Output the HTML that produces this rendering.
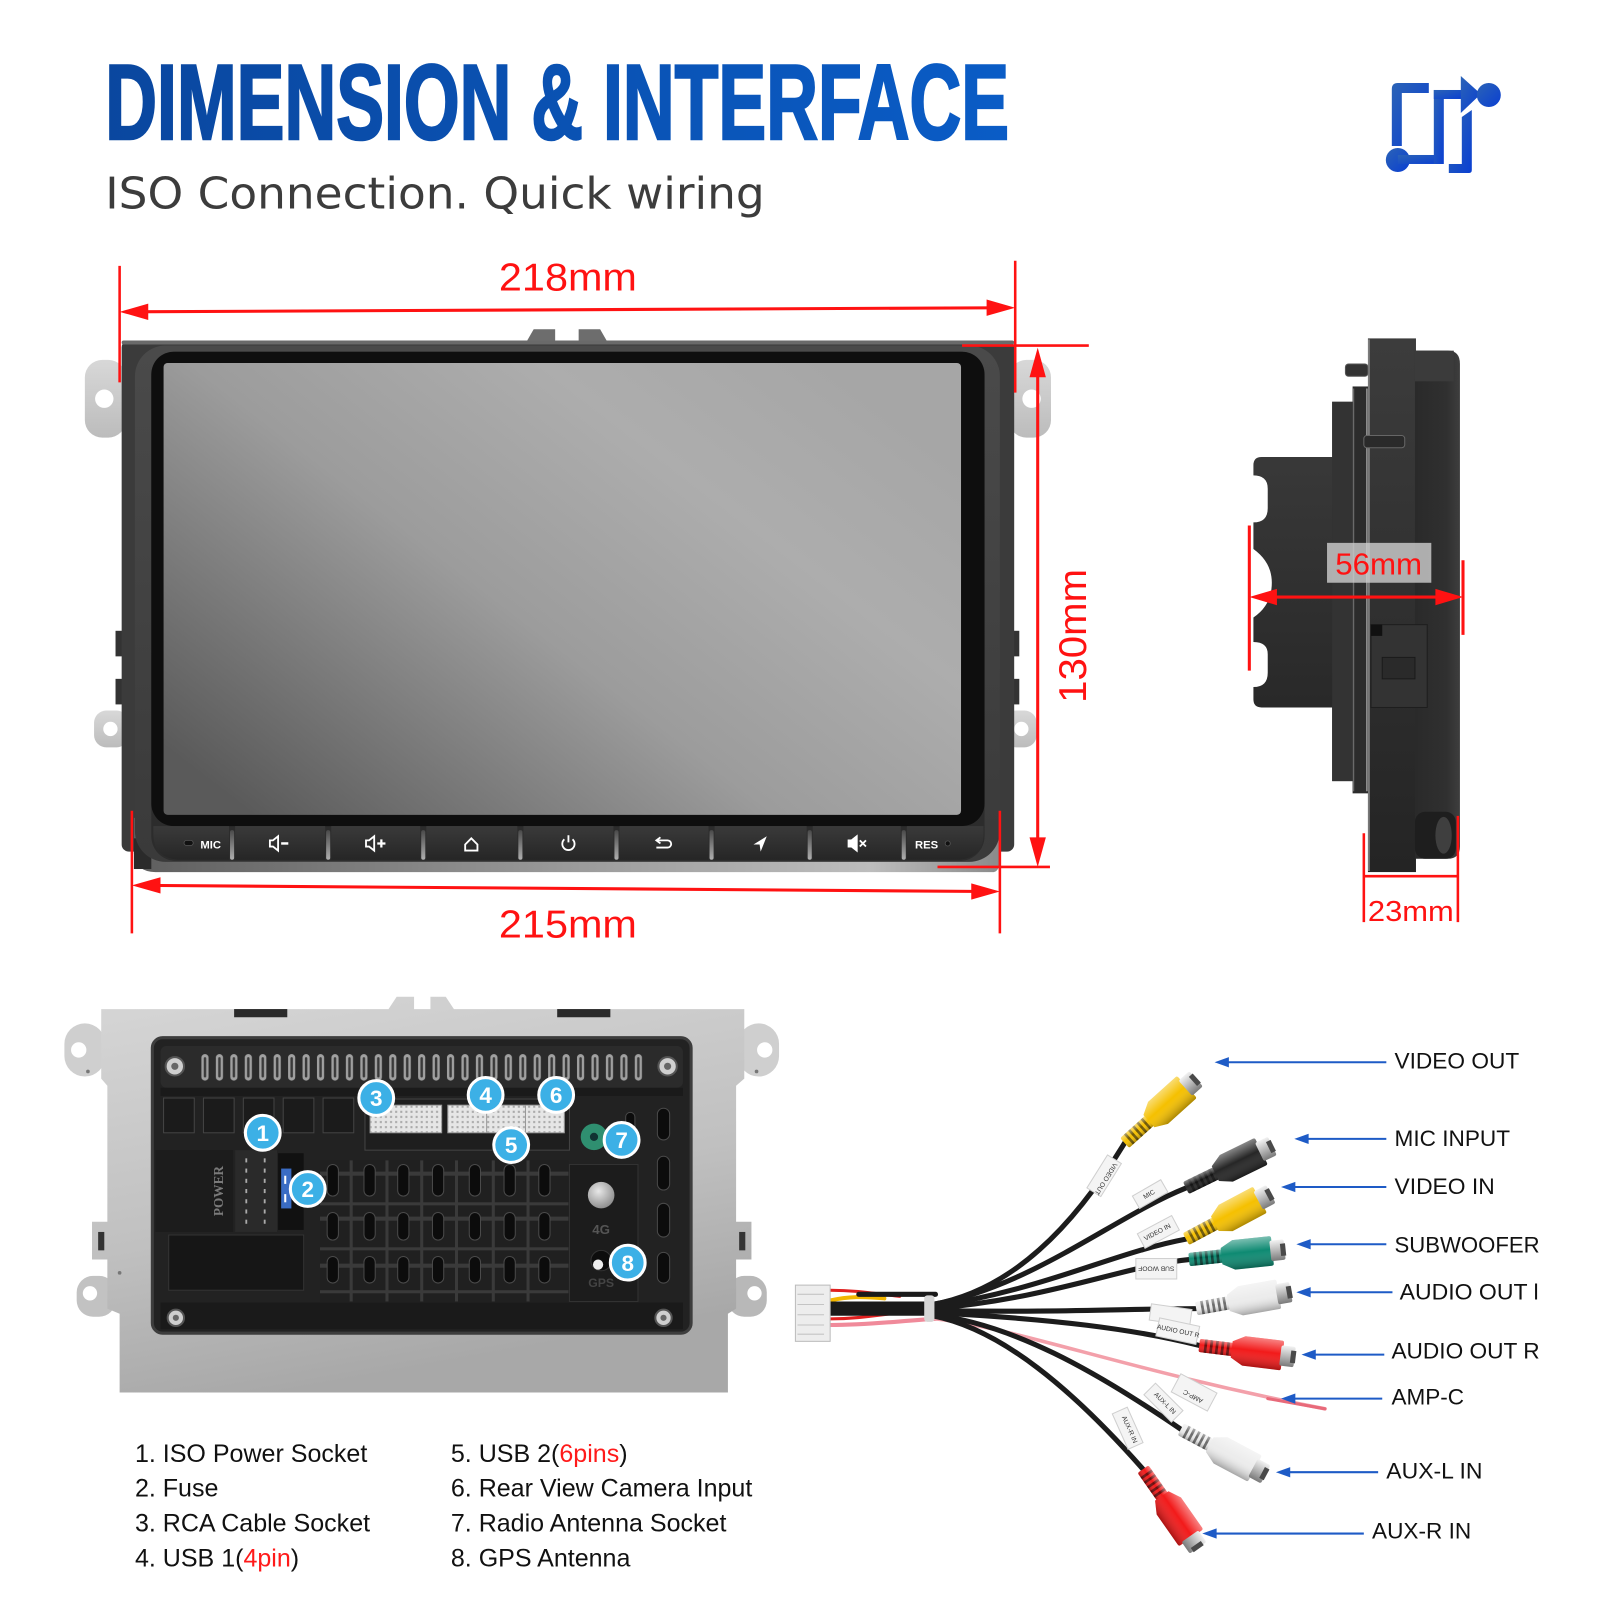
<!DOCTYPE html>
<html><head><meta charset="utf-8"><style>
html,body{margin:0;padding:0;background:#fff;}
svg{display:block;}
</style></head><body>
<svg width="1600" height="1600" viewBox="0 0 1565 1565" xmlns="http://www.w3.org/2000/svg">
<defs>
  <linearGradient id="tg" x1="0" y1="0" x2="1" y2="0"><stop offset="0" stop-color="#0a479f"/><stop offset="1" stop-color="#0a5cc6"/></linearGradient>
  <linearGradient id="ig" x1="0" y1="0" x2="1" y2="1"><stop offset="0" stop-color="#2b63b6"/><stop offset="1" stop-color="#0a3fd2"/></linearGradient>
  <linearGradient id="scr" x1="0" y1="0.85" x2="0.95" y2="0.15"><stop offset="0" stop-color="#5a5a5a"/><stop offset="0.45" stop-color="#9c9c9c"/><stop offset="0.75" stop-color="#adadad"/><stop offset="1" stop-color="#a6a6a6"/></linearGradient>
  <linearGradient id="frame" x1="0" y1="0" x2="0" y2="1"><stop offset="0" stop-color="#4a4a4a"/><stop offset="1" stop-color="#3a3a3a"/></linearGradient>
  <linearGradient id="lip" x1="0" y1="0" x2="1" y2="0"><stop offset="0" stop-color="#5e5e5e"/><stop offset="0.5" stop-color="#9a9a9a"/><stop offset="0.85" stop-color="#bdbdbd"/><stop offset="1" stop-color="#8a8a8a"/></linearGradient>
  <linearGradient id="ear" x1="0" y1="0" x2="0" y2="1"><stop offset="0" stop-color="#d8d8d8"/><stop offset="1" stop-color="#bcbcbc"/></linearGradient>
  <linearGradient id="btn" x1="0" y1="0" x2="0" y2="1"><stop offset="0" stop-color="#3a3a3a"/><stop offset="1" stop-color="#262626"/></linearGradient>
  <linearGradient id="gap" x1="0" y1="0" x2="0" y2="1"><stop offset="0" stop-color="#4a4a4a"/><stop offset="1" stop-color="#b0b0b0"/></linearGradient>
  <linearGradient id="side" x1="0" y1="0" x2="0" y2="1"><stop offset="0" stop-color="#3c3c3c"/><stop offset="1" stop-color="#242424"/></linearGradient>
  <linearGradient id="sideR" x1="0" y1="0" x2="1" y2="0"><stop offset="0" stop-color="#2a2a2a"/><stop offset="0.7" stop-color="#303030"/><stop offset="1" stop-color="#3e3e3e"/></linearGradient>
  <linearGradient id="plate" x1="0" y1="0" x2="0.3" y2="1"><stop offset="0" stop-color="#d6d6d6"/><stop offset="0.6" stop-color="#c0c0c0"/><stop offset="1" stop-color="#a8a8a8"/></linearGradient>
  <linearGradient id="plugShade" x1="0" y1="0" x2="0" y2="1"><stop offset="0" stop-color="#fff" stop-opacity="0.45"/><stop offset="0.45" stop-color="#fff" stop-opacity="0"/><stop offset="1" stop-color="#000" stop-opacity="0.3"/></linearGradient>
  <linearGradient id="metal" x1="0" y1="0" x2="0" y2="1"><stop offset="0" stop-color="#f2f2f2"/><stop offset="0.5" stop-color="#b8b8b8"/><stop offset="1" stop-color="#7a7a7a"/></linearGradient>
  <radialGradient id="knob" cx="0.4" cy="0.35" r="0.7"><stop offset="0" stop-color="#e8e8e8"/><stop offset="1" stop-color="#8a8a8a"/></radialGradient>
  <pattern id="vent" x="196" y="1031" width="14.13" height="26" patternUnits="userSpaceOnUse">
    <rect x="1" y="0" width="7" height="26" rx="3.5" fill="#a0a0a0"/>
    <rect x="3.3" y="3" width="2.4" height="20" rx="1.2" fill="#3a3a3a"/>
  </pattern>
  <pattern id="pins" x="0" y="0" width="5" height="5" patternUnits="userSpaceOnUse">
    <rect width="5" height="5" fill="#e6e6e6"/><rect x="1.5" y="1.5" width="2" height="2" fill="#a8a8a8"/>
  </pattern>
  <g id="plug">
    <rect x="0" y="-6.5" width="36" height="13" rx="2" fill="currentColor"/>
    <g fill="#000" opacity="0.55"><rect x="5" y="-6.5" width="2.6" height="13"/><rect x="10.5" y="-6.5" width="2.6" height="13"/><rect x="16" y="-6.5" width="2.6" height="13"/><rect x="21.5" y="-6.5" width="2.6" height="13"/><rect x="27" y="-6.5" width="2.6" height="13"/></g>
    <rect x="0" y="-6.5" width="36" height="13" rx="2" fill="url(#plugShade)"/>
    <path d="M32,-8 L44,-14.5 H80 Q82,-14.5 82,-12.5 V12.5 Q82,14.5 80,14.5 H44 L32,8 Z" fill="currentColor"/>
    <path d="M32,-8 L44,-14.5 H80 Q82,-14.5 82,-12.5 V12.5 Q82,14.5 80,14.5 H44 L32,8 Z" fill="url(#plugShade)"/>
    <rect x="80" y="-10" width="14" height="20" rx="2" fill="url(#metal)"/>
    <rect x="90" y="-6" width="5" height="12" fill="#4a4a4a"/>
  </g>
</defs>

<!-- ===== TITLE ===== -->
<text x="103" y="136" font-family="Liberation Sans, Arial, sans-serif" font-weight="bold" font-size="104" fill="url(#tg)" stroke="url(#tg)" stroke-width="2.5" textLength="884" lengthAdjust="spacingAndGlyphs">DIMENSION &amp; INTERFACE</text>
<text x="103" y="204" font-family="DejaVu Sans, Liberation Sans, sans-serif" font-size="43" fill="#3c3c3c" textLength="645" lengthAdjust="spacingAndGlyphs">ISO Connection. Quick wiring</text>

<!-- icon -->
<g transform="scale(0.978)" fill="url(#ig)">
  <path d="M1392,146 V89 Q1392,83 1398,83 H1429 V93 H1402 V146 Z"/>
  <circle cx="1398" cy="160" r="12"/>
  <rect x="1398" y="155" width="45" height="9"/>
  <rect x="1434" y="90" width="10" height="74"/>
  <rect x="1434" y="90" width="30" height="9"/>
  <polygon points="1461,76 1481,94 1461,113"/>
  <circle cx="1489" cy="95" r="12"/>
  <path d="M1462,117 L1472,110 V170 Q1472,173 1469,173 H1449 V164 H1462 Z"/>
</g>

<!-- ===== FRONT VIEW ===== -->
<!-- ears -->
<rect x="83" y="352" width="40" height="76" rx="17" fill="url(#ear)"/>
<circle cx="102" cy="390" r="9" fill="#fff"/>
<rect x="92" y="695" width="34" height="36" rx="12" fill="url(#ear)"/>
<circle cx="108" cy="713" r="7" fill="#fff"/>
<rect x="987" y="352" width="41" height="76" rx="17" fill="url(#ear)"/>
<circle cx="1009" cy="390" r="9" fill="#fff"/>
<rect x="982" y="695" width="32" height="36" rx="12" fill="url(#ear)"/>
<circle cx="999" cy="713" r="7" fill="#fff"/>
<rect x="113" y="617" width="10" height="25" fill="#333"/>
<rect x="113" y="664" width="10" height="25" fill="#333"/>
<rect x="986" y="617" width="11" height="25" fill="#333"/>
<rect x="986" y="664" width="11" height="25" fill="#333"/>
<!-- top tabs -->
<polygon points="514,336 522,322 543,322 543,336" fill="#6d6d6d"/>
<polygon points="566,336 566,322 587,322 595,336" fill="#6d6d6d"/>
<!-- body -->
<rect x="119" y="333" width="873" height="500" rx="7" fill="#3b3b3b"/>
<rect x="119" y="333" width="873" height="4" rx="2" fill="#6a6a6a"/>
<path d="M131,800 V835 Q133,853 152,853 H972 Q978,852 978,840 V800 Z" fill="url(#lip)"/>
<rect x="131" y="820" width="17" height="30" fill="#2a2a2a"/>
<rect x="132" y="338" width="846" height="505" rx="30" fill="url(#frame)"/>
<rect x="148" y="344" width="815" height="498" rx="24" fill="#2c2c2c"/>
<rect x="148" y="344" width="815" height="464" rx="22" fill="#0e0e0e"/>
<rect x="160" y="355" width="780" height="442" rx="4" fill="url(#scr)"/>
<!-- buttons -->
<path d="M150,808 H224 V841 H178 Q150,841 150,815 Z" fill="url(#btn)"/>
<rect x="230" y="808" width="88" height="33" fill="url(#btn)"/>
<rect x="324" y="808" width="87" height="33" fill="url(#btn)"/>
<rect x="417" y="808" width="89" height="33" fill="url(#btn)"/>
<rect x="512" y="808" width="88" height="33" fill="url(#btn)"/>
<rect x="606" y="808" width="87" height="33" fill="url(#btn)"/>
<rect x="699" y="808" width="90" height="33" fill="url(#btn)"/>
<rect x="795" y="808" width="86" height="33" fill="url(#btn)"/>
<path d="M887,808 H962 V815 Q962,841 934,841 H887 Z" fill="url(#btn)"/>
<g fill="url(#gap)">
  <rect x="225" y="812" width="4" height="29" rx="2"/><rect x="319" y="812" width="4" height="29" rx="2"/>
  <rect x="412" y="812" width="4" height="29" rx="2"/><rect x="507" y="812" width="4" height="29" rx="2"/>
  <rect x="601" y="812" width="4" height="29" rx="2"/><rect x="694" y="812" width="4" height="29" rx="2"/>
  <rect x="790" y="812" width="4" height="29" rx="2"/><rect x="882" y="812" width="4" height="29" rx="2"/>
</g>
<g font-family="Liberation Sans, Arial, sans-serif" font-weight="bold" font-size="11" fill="#fff">
  <rect x="180" y="822" width="9" height="5" rx="2.5" fill="#111" stroke="#555" stroke-width="0.8"/>
  <text x="196" y="830">MIC</text>
  <text x="895" y="830">RES</text>
  <circle cx="927" cy="825" r="2.5" fill="#111" stroke="#555" stroke-width="0.8"/>
</g>
<g stroke="#fff" fill="none" stroke-width="1.8">
  <path d="M264,822 H267 L272,818 V832 L267,828 H264 Z"/>
  <path d="M275,825 H282" stroke-width="2.4"/>
  <path d="M358,822 H361 L366,818 V832 L361,828 H358 Z"/>
  <path d="M369,825 H377 M373,821 V829" stroke-width="2.2"/>
  <path d="M455,826 L461,820 L467,826 V832 H455 Z"/>
  <path d="M552,821 A6,6 0 1 0 560,821 M556,817 V824"/>
  <path d="M643,822 H653 A3.5,3.5 0 0 1 653,829 H642"/>
  <path d="M646,819 L642,822 L646,825"/>
  <path d="M830,822 H833 L838,818 V832 L833,828 H830 Z" fill="#fff"/>
  <path d="M841,822 L847,828 M847,822 L841,828"/>
</g>
<polygon points="750,818 737,826 743,826 744,833" fill="#fff"/>

<!-- front dims -->
<g stroke="#ff1212" fill="none">
  <line x1="117" y1="260" x2="117" y2="374" stroke-width="2.5"/>
  <line x1="993" y1="255" x2="993" y2="384" stroke-width="2.5"/>
  <line x1="125" y1="305" x2="985" y2="301" stroke-width="3"/>
  <line x1="941" y1="338" x2="1065" y2="338" stroke-width="2.5"/>
  <line x1="1015" y1="355" x2="1015" y2="835" stroke-width="3"/>
  <line x1="917" y1="848" x2="1027" y2="848" stroke-width="2.5"/>
  <line x1="129" y1="793" x2="129" y2="913" stroke-width="2.5"/>
  <line x1="978" y1="793" x2="978" y2="913" stroke-width="2.5"/>
  <line x1="140" y1="866" x2="965" y2="872" stroke-width="3"/>
</g>
<g fill="#ff1212">
  <polygon points="117,305 145,297 145,313"/>
  <polygon points="993,301 965,293 965,309"/>
  <polygon points="1015,340 1007,369 1023,369"/>
  <polygon points="1015,848 1007,819 1023,819"/>
  <polygon points="129,866 157,858 157,874"/>
  <polygon points="978,872 950,864 950,880"/>
</g>
<g font-family="Liberation Sans, Arial, sans-serif" fill="#ff1212" font-size="38">
  <text x="488" y="284" textLength="135" lengthAdjust="spacingAndGlyphs">218mm</text>
  <text x="488" y="917" textLength="135" lengthAdjust="spacingAndGlyphs">215mm</text>
  <text transform="translate(1062,622) rotate(-90)" text-anchor="middle" textLength="131" lengthAdjust="spacingAndGlyphs">130mm</text>
</g>

<!-- ===== SIDE VIEW ===== -->
<path d="M1226,455 Q1226,447 1234,447 H1303 V393 H1323 V764 H1303 V692 H1234 Q1226,692 1226,684 V672 Q1240,672 1240,658 V640 Q1240,628 1226,628 V604 Q1244,592 1244,570 Q1244,550 1226,537 V511 Q1240,511 1240,497 V478 Q1240,465 1226,465 Z" fill="url(#side)"/>
<rect x="1303" y="393" width="20" height="371" fill="#333"/>
<rect x="1323" y="378" width="16" height="398" fill="#2c2c2c"/>
<line x1="1324" y1="380" x2="1324" y2="774" stroke="#6a6a6a" stroke-width="1.2"/>
<line x1="1337" y1="380" x2="1337" y2="774" stroke="#9a9a9a" stroke-width="1.5"/>
<rect x="1338" y="331" width="47" height="522" fill="url(#side)"/>
<line x1="1339" y1="332" x2="1339" y2="852" stroke="#8a8a8a" stroke-width="1.5"/>
<path d="M1384,343 H1416 Q1428,343 1428,356 V828 Q1428,840 1416,840 H1384 Z" fill="url(#sideR)"/>
<rect x="1384" y="343" width="38" height="30" fill="#3b3b3b"/>
<rect x="1384" y="794" width="40" height="46" rx="10" fill="#1e1e1e"/>
<ellipse cx="1412" cy="817" rx="8" ry="18" fill="#555" opacity="0.6"/>
<rect x="1316" y="356" width="22" height="12" rx="3" fill="#333" stroke="#555"/>
<rect x="1334" y="426" width="40" height="12" rx="3" fill="#2a2a2a" stroke="#666"/>
<rect x="1341" y="611" width="55" height="81" fill="#333" stroke="#1e1e1e"/>
<rect x="1352" y="643" width="32" height="21" fill="#2a2a2a" stroke="#1a1a1a"/>
<rect x="1341" y="611" width="11" height="11" fill="#111"/>
<!-- side dims -->
<rect x="1298" y="531" width="102" height="39" fill="#d0d0d0" opacity="0.8"/>
<g stroke="#ff1212" fill="none" stroke-width="3">
  <line x1="1222" y1="514" x2="1222" y2="656"/>
  <line x1="1431" y1="548" x2="1431" y2="621"/>
  <line x1="1235" y1="584" x2="1418" y2="584"/>
  <line x1="1334" y1="815" x2="1334" y2="902" stroke-width="2.5"/>
  <line x1="1426" y1="798" x2="1426" y2="902" stroke-width="2.5"/>
  <line x1="1334" y1="857" x2="1426" y2="857" stroke-width="2.5"/>
</g>
<g fill="#ff1212">
  <polygon points="1222,584 1249,576 1249,592"/>
  <polygon points="1431,584 1404,576 1404,592"/>
</g>
<g font-family="Liberation Sans, Arial, sans-serif" fill="#ff1212">
  <text x="1306" y="562" font-size="30" textLength="85" lengthAdjust="spacingAndGlyphs">56mm</text>
  <text x="1338" y="901" font-size="28" textLength="84" lengthAdjust="spacingAndGlyphs">23mm</text>
</g>

<!-- ===== BACK PANEL ===== -->
<rect x="63" y="1001" width="40" height="52" rx="20" fill="#cfcfcf"/>
<circle cx="77" cy="1027" r="7.5" fill="#fff"/>
<rect x="722" y="1001" width="40" height="52" rx="20" fill="#cfcfcf"/>
<circle cx="748" cy="1027" r="7.5" fill="#fff"/>
<rect x="75" y="1248" width="38" height="40" rx="16" fill="#c2c2c2"/>
<circle cx="88" cy="1265" r="7" fill="#fff"/>
<rect x="712" y="1248" width="38" height="40" rx="16" fill="#b8b8b8"/>
<circle cx="738" cy="1265" r="7" fill="#fff"/>
<path d="M99,987 H380 L388,975 H405 V987 H421 V975 H436 L444,987 H728 V1055 L720,1062 V1195 H735 V1232 H720 V1280 L712,1285 V1362 H117 V1285 L105,1280 V1232 H90 V1195 H105 V1062 L99,1055 Z" fill="url(#plate)"/>
<rect x="96" y="1205" width="6" height="18" fill="#333"/>
<rect x="723" y="1205" width="6" height="18" fill="#333"/>
<rect x="229" y="987" width="52" height="8" fill="#2a2a2a"/>
<rect x="545" y="987" width="52" height="8" fill="#2a2a2a"/>
<circle cx="86" cy="1048" r="1.8" fill="#777"/><circle cx="740" cy="1048" r="1.8" fill="#777"/>
<circle cx="117" cy="1245" r="1.8" fill="#777"/>
<!-- chassis -->
<rect x="149" y="1015" width="527" height="289" rx="10" fill="#222" stroke="#3d3d3d" stroke-width="3"/>
<rect x="157" y="1023" width="511" height="41" rx="6" fill="#2b2b2b"/>
<rect x="196" y="1031" width="435" height="26" fill="url(#vent)"/>
<rect x="157" y="1064" width="511" height="8" fill="#1a1a1a"/>
<g fill="#1b1b1b" stroke="#444" stroke-width="1">
  <rect x="160" y="1074" width="30" height="34"/><rect x="199" y="1074" width="30" height="34"/>
  <rect x="238" y="1074" width="30" height="34"/><rect x="277" y="1074" width="30" height="34"/>
  <rect x="316" y="1074" width="30" height="34"/>
</g>
<rect x="357" y="1075" width="200" height="50" fill="#1e1e1e" stroke="#444"/>
<rect x="362" y="1081" width="70" height="27" fill="url(#pins)" stroke="#999"/>
<rect x="438" y="1081" width="114" height="27" fill="url(#pins)" stroke="#999"/>
<line x1="476" y1="1081" x2="476" y2="1108" stroke="#999"/><line x1="514" y1="1081" x2="514" y2="1108" stroke="#999"/>
<circle cx="581" cy="1112" r="13" fill="#2f8f70"/><circle cx="581" cy="1112" r="4" fill="#133"/>
<!-- power -->
<rect x="152" y="1125" width="76" height="80" fill="#1c1c1c"/>
<text transform="translate(218,1165) rotate(-90)" text-anchor="middle" font-family="Liberation Serif, serif" font-weight="bold" font-size="13" fill="#7a7a7a">POWER</text>
<rect x="230" y="1125" width="41" height="80" fill="#2a2a2a"/>
<g fill="#aaa">
  <rect x="240" y="1133" width="1.8" height="4"/><rect x="240" y="1143" width="1.8" height="4"/><rect x="240" y="1153" width="1.8" height="4"/><rect x="240" y="1163" width="1.8" height="4"/><rect x="240" y="1173" width="1.8" height="4"/><rect x="240" y="1183" width="1.8" height="4"/><rect x="240" y="1193" width="1.8" height="4"/>
  <rect x="258" y="1133" width="1.8" height="4"/><rect x="258" y="1143" width="1.8" height="4"/><rect x="258" y="1153" width="1.8" height="4"/><rect x="258" y="1163" width="1.8" height="4"/><rect x="258" y="1173" width="1.8" height="4"/><rect x="258" y="1183" width="1.8" height="4"/><rect x="258" y="1193" width="1.8" height="4"/>
</g>
<rect x="272" y="1128" width="25" height="75" fill="#111"/>
<rect x="275" y="1143" width="10" height="39" fill="#3a6cc4"/>
<rect x="278" y="1150" width="2" height="8" fill="#fff"/><rect x="278" y="1168" width="2" height="8" fill="#fff"/>
<rect x="165" y="1208" width="132" height="54" fill="#161616" stroke="#333"/>
<!-- grid -->
<rect x="313" y="1135" width="243" height="138" fill="#202020"/>
<g fill="#3a3a3a">
  <rect x="313" y="1146" width="243" height="4"/><rect x="313" y="1176" width="243" height="3"/>
  <rect x="313" y="1190" width="243" height="4"/><rect x="313" y="1220" width="243" height="3"/>
  <rect x="313" y="1236" width="243" height="4"/><rect x="313" y="1262" width="243" height="3"/>
  <rect x="342" y="1135" width="3" height="138"/><rect x="377" y="1135" width="3" height="138"/>
  <rect x="411" y="1135" width="3" height="138"/><rect x="445" y="1135" width="3" height="138"/>
  <rect x="481" y="1135" width="3" height="138"/><rect x="515" y="1135" width="3" height="138"/>
</g>
<g fill="#0c0c0c" stroke="#4a4a4a" stroke-width="1">
  <rect x="320" y="1139" width="11" height="31" rx="5.5"/><rect x="356" y="1139" width="11" height="31" rx="5.5"/><rect x="389" y="1139" width="11" height="31" rx="5.5"/><rect x="423" y="1139" width="11" height="31" rx="5.5"/><rect x="459" y="1139" width="11" height="31" rx="5.5"/><rect x="493" y="1139" width="11" height="31" rx="5.5"/><rect x="527" y="1139" width="11" height="31" rx="5.5"/>
  <rect x="320" y="1186" width="11" height="27" rx="5.5"/><rect x="356" y="1186" width="11" height="27" rx="5.5"/><rect x="389" y="1186" width="11" height="27" rx="5.5"/><rect x="423" y="1186" width="11" height="27" rx="5.5"/><rect x="459" y="1186" width="11" height="27" rx="5.5"/><rect x="493" y="1186" width="11" height="27" rx="5.5"/><rect x="527" y="1186" width="11" height="27" rx="5.5"/>
  <rect x="320" y="1229" width="11" height="26" rx="5.5"/><rect x="356" y="1229" width="11" height="26" rx="5.5"/><rect x="389" y="1229" width="11" height="26" rx="5.5"/><rect x="423" y="1229" width="11" height="26" rx="5.5"/><rect x="459" y="1229" width="11" height="26" rx="5.5"/><rect x="493" y="1229" width="11" height="26" rx="5.5"/><rect x="527" y="1229" width="11" height="26" rx="5.5"/>
  <rect x="643" y="1084" width="12" height="31" rx="6"/><rect x="643" y="1131" width="12" height="33" rx="6"/><rect x="643" y="1177" width="12" height="33" rx="6"/><rect x="643" y="1225" width="12" height="30" rx="6"/>
  <rect x="612" y="1088" width="9" height="18" rx="4.5"/>
</g>
<rect x="557" y="1139" width="67" height="134" fill="#1c1c1c" stroke="#333"/>
<circle cx="588" cy="1169" r="13" fill="url(#knob)"/>
<text x="588" y="1207" text-anchor="middle" font-family="Liberation Sans, Arial, sans-serif" font-weight="bold" font-size="13" fill="#555">4G</text>
<circle cx="588" cy="1233" r="10" fill="#0d0d0d" stroke="#333"/>
<circle cx="585" cy="1237" r="5" fill="#eee"/>
<text x="588" y="1259" text-anchor="middle" font-family="Liberation Sans, Arial, sans-serif" font-weight="bold" font-size="12" fill="#444">GPS</text>
<rect x="157" y="1274" width="511" height="26" fill="#1a1a1a"/>
<g>
  <circle cx="171" cy="1043" r="9" fill="#cfcfcf" stroke="#555" stroke-width="2"/><circle cx="171" cy="1043" r="3.5" fill="#666"/>
  <circle cx="653" cy="1043" r="9" fill="#cfcfcf" stroke="#555" stroke-width="2"/><circle cx="653" cy="1043" r="3.5" fill="#666"/>
  <circle cx="172" cy="1289" r="8" fill="#cfcfcf" stroke="#555" stroke-width="2"/><circle cx="172" cy="1289" r="3" fill="#666"/>
  <circle cx="649" cy="1289" r="8" fill="#cfcfcf" stroke="#555" stroke-width="2"/><circle cx="649" cy="1289" r="3" fill="#666"/>
</g>
<!-- badges -->
<g fill="#3cb0e6" stroke="#fff" stroke-width="3">
  <circle cx="257" cy="1108" r="17"/><circle cx="301" cy="1163" r="17"/><circle cx="368" cy="1074" r="17"/>
  <circle cx="475" cy="1071" r="17"/><circle cx="500" cy="1120" r="17"/><circle cx="544" cy="1071" r="17"/>
  <circle cx="608" cy="1115" r="17"/><circle cx="614" cy="1235" r="17"/>
</g>
<g font-family="Liberation Sans, Arial, sans-serif" font-weight="bold" font-size="22" fill="#fff" text-anchor="middle">
  <text x="257" y="1116">1</text><text x="301" y="1171">2</text><text x="368" y="1082">3</text>
  <text x="475" y="1079">4</text><text x="500" y="1128">5</text><text x="544" y="1079">6</text>
  <text x="608" y="1123">7</text><text x="614" y="1243">8</text>
</g>

<!-- legend -->
<g font-family="Liberation Sans, Arial, sans-serif" font-size="24.5" fill="#111">
  <text x="132" y="1430">1. ISO Power Socket</text>
  <text x="132" y="1464">2. Fuse</text>
  <text x="132" y="1498">3. RCA Cable Socket</text>
  <text x="132" y="1532">4. USB 1(<tspan fill="#ff1a1a">4pin</tspan>)</text>
  <text x="441" y="1430">5. USB 2(<tspan fill="#ff1a1a">6pins</tspan>)</text>
  <text x="441" y="1464">6. Rear View Camera Input</text>
  <text x="441" y="1498">7. Radio Antenna Socket</text>
  <text x="441" y="1532">8. GPS Antenna</text>
</g>

<!-- ===== HARNESS ===== -->
<g fill="none" stroke-linecap="round">
  <path d="M812,1262 C840,1262 860,1266 880,1268" stroke="#e02020" stroke-width="3"/>
  <path d="M812,1290 C840,1290 860,1286 880,1284" stroke="#e02020" stroke-width="3"/>
  <path d="M812,1296 C850,1296 880,1292 915,1290" stroke="#f08a9a" stroke-width="4"/>
  <path d="M812,1272 C830,1268 845,1268 865,1270" stroke="#f2b600" stroke-width="4"/>
  <path d="M812,1280 H915" stroke="#1a1a1a" stroke-width="14"/>
  <path d="M840,1266 H915" stroke="#1a1a1a" stroke-width="5"/>
  <path d="M915,1290 C1000,1300 1100,1340 1296,1378" stroke="#f3a0aa" stroke-width="3.5"/>
  <path d="M1240,1368 L1296,1378" stroke="#e86a7a" stroke-width="3"/>
  <g stroke="#1c1c1c" stroke-width="5">
    <path d="M912,1276 C990,1262 1050,1200 1100,1118"/>
    <path d="M912,1276 C1010,1258 1090,1190 1160,1162"/>
    <path d="M912,1278 C1020,1262 1090,1225 1160,1212"/>
    <path d="M912,1280 C1030,1270 1100,1238 1163,1232"/>
    <path d="M912,1282 C1030,1284 1110,1280 1170,1280"/>
    <path d="M912,1284 C1030,1290 1110,1300 1173,1316"/>
    <path d="M912,1286 C990,1295 1070,1340 1155,1398"/>
    <path d="M912,1287 C980,1300 1050,1360 1118,1437"/>
  </g>
</g>
<rect x="778" y="1257" width="34" height="55" fill="#ededed" stroke="#bbb"/>
<g stroke="#c4c4c4" stroke-width="1"><line x1="780" y1="1266" x2="806" y2="1266"/><line x1="780" y1="1276" x2="806" y2="1276"/><line x1="780" y1="1286" x2="806" y2="1286"/><line x1="780" y1="1296" x2="806" y2="1296"/><line x1="780" y1="1305" x2="806" y2="1305"/></g>
<rect x="904" y="1267" width="10" height="26" rx="3" fill="#d6d6d6"/>
<!-- sleeves -->
<g fill="#f4f4f4" stroke="#cfcfcf" stroke-width="1">
  <rect x="-19" y="-8" width="38" height="16" transform="translate(1080,1150) rotate(-58)"/>
  <rect x="-16" y="-7" width="32" height="14" transform="translate(1125,1168) rotate(-30)"/>
  <rect x="-19" y="-8" width="38" height="16" transform="translate(1133,1205) rotate(-28)"/>
  <rect x="-20" y="-10" width="40" height="20" transform="translate(1131,1241)"/>
  <rect x="-20" y="-8" width="40" height="16" transform="translate(1145,1286) rotate(8)"/>
  <rect x="-20" y="-9" width="40" height="18" transform="translate(1152,1302) rotate(12)"/>
  <rect x="-20" y="-10" width="40" height="20" transform="translate(1168,1362) rotate(28)"/>
  <rect x="-19" y="-8" width="38" height="16" transform="translate(1138,1372) rotate(45)"/>
  <rect x="-19" y="-8" width="38" height="16" transform="translate(1103,1397) rotate(66)"/>
</g>
<g font-family="Liberation Sans, Arial, sans-serif" font-size="6.5" fill="#333" text-anchor="middle">
  <text transform="translate(1080,1152) rotate(122)">VIDEO OUT</text>
  <text transform="translate(1125,1170) rotate(-30)">MIC</text>
  <text transform="translate(1133,1207) rotate(-28)">VIDEO IN</text>
  <text transform="translate(1131,1239) rotate(180)">SUB WOOF</text>
  <text transform="translate(1152,1304) rotate(12)">AUDIO OUT R</text>
  <text transform="translate(1168,1364) rotate(208)">AMP-C</text>
  <text transform="translate(1138,1374) rotate(45)">AUX-L IN</text>
  <text transform="translate(1103,1399) rotate(66)">AUX-R IN</text>
</g>
<!-- plugs -->
<use href="#plug" transform="translate(1100,1118) rotate(-42)" style="color:#f5c000"/>
<use href="#plug" transform="translate(1160,1162) rotate(-26)" style="color:#262626"/>
<use href="#plug" transform="translate(1160,1212) rotate(-28)" style="color:#f5c000"/>
<use href="#plug" transform="translate(1163,1232) rotate(-6)" style="color:#0e8a72"/>
<use href="#plug" transform="translate(1170,1280) rotate(-10)" style="color:#ececec"/>
<use href="#plug" transform="translate(1173,1316) rotate(7)" style="color:#f21a1a"/>
<use href="#plug" transform="translate(1155,1398) rotate(28)" style="color:#ececec"/>
<use href="#plug" transform="translate(1118,1437) rotate(55)" style="color:#f21a1a"/>

<!-- cable labels -->
<g stroke="#1e5bc6" stroke-width="2">
  <line x1="1196" y1="1039" x2="1356" y2="1039"/>
  <line x1="1274" y1="1114" x2="1356" y2="1114"/>
  <line x1="1261" y1="1161" x2="1356" y2="1161"/>
  <line x1="1276" y1="1217" x2="1356" y2="1217"/>
  <line x1="1276" y1="1264" x2="1362" y2="1264"/>
  <line x1="1281" y1="1325" x2="1354" y2="1325"/>
  <line x1="1261" y1="1368" x2="1352" y2="1368"/>
  <line x1="1256" y1="1440" x2="1348" y2="1440"/>
  <line x1="1184" y1="1500" x2="1334" y2="1500"/>
</g>
<g fill="#1e5bc6">
  <polygon points="1188,1039 1202,1034 1202,1044"/>
  <polygon points="1266,1114 1280,1109 1280,1119"/>
  <polygon points="1253,1161 1267,1156 1267,1166"/>
  <polygon points="1268,1217 1282,1212 1282,1222"/>
  <polygon points="1268,1264 1282,1259 1282,1269"/>
  <polygon points="1273,1325 1287,1320 1287,1330"/>
  <polygon points="1253,1368 1267,1363 1267,1373"/>
  <polygon points="1248,1440 1262,1435 1262,1445"/>
  <polygon points="1176,1500 1190,1495 1190,1505"/>
</g>
<g font-family="Liberation Sans, Arial, sans-serif" font-size="22" fill="#111">
  <text x="1364" y="1045" textLength="122" lengthAdjust="spacingAndGlyphs">VIDEO OUT</text>
  <text x="1364" y="1121" textLength="113" lengthAdjust="spacingAndGlyphs">MIC INPUT</text>
  <text x="1364" y="1168" textLength="98" lengthAdjust="spacingAndGlyphs">VIDEO IN</text>
  <text x="1364" y="1225" textLength="142" lengthAdjust="spacingAndGlyphs">SUBWOOFER</text>
  <text x="1369" y="1271" textLength="136" lengthAdjust="spacingAndGlyphs">AUDIO OUT l</text>
  <text x="1361" y="1329" textLength="145" lengthAdjust="spacingAndGlyphs">AUDIO OUT R</text>
  <text x="1361" y="1374" textLength="71" lengthAdjust="spacingAndGlyphs">AMP-C</text>
  <text x="1356" y="1446" textLength="94" lengthAdjust="spacingAndGlyphs">AUX-L IN</text>
  <text x="1342" y="1505" textLength="97" lengthAdjust="spacingAndGlyphs">AUX-R IN</text>
</g>
</svg>
</body></html>
